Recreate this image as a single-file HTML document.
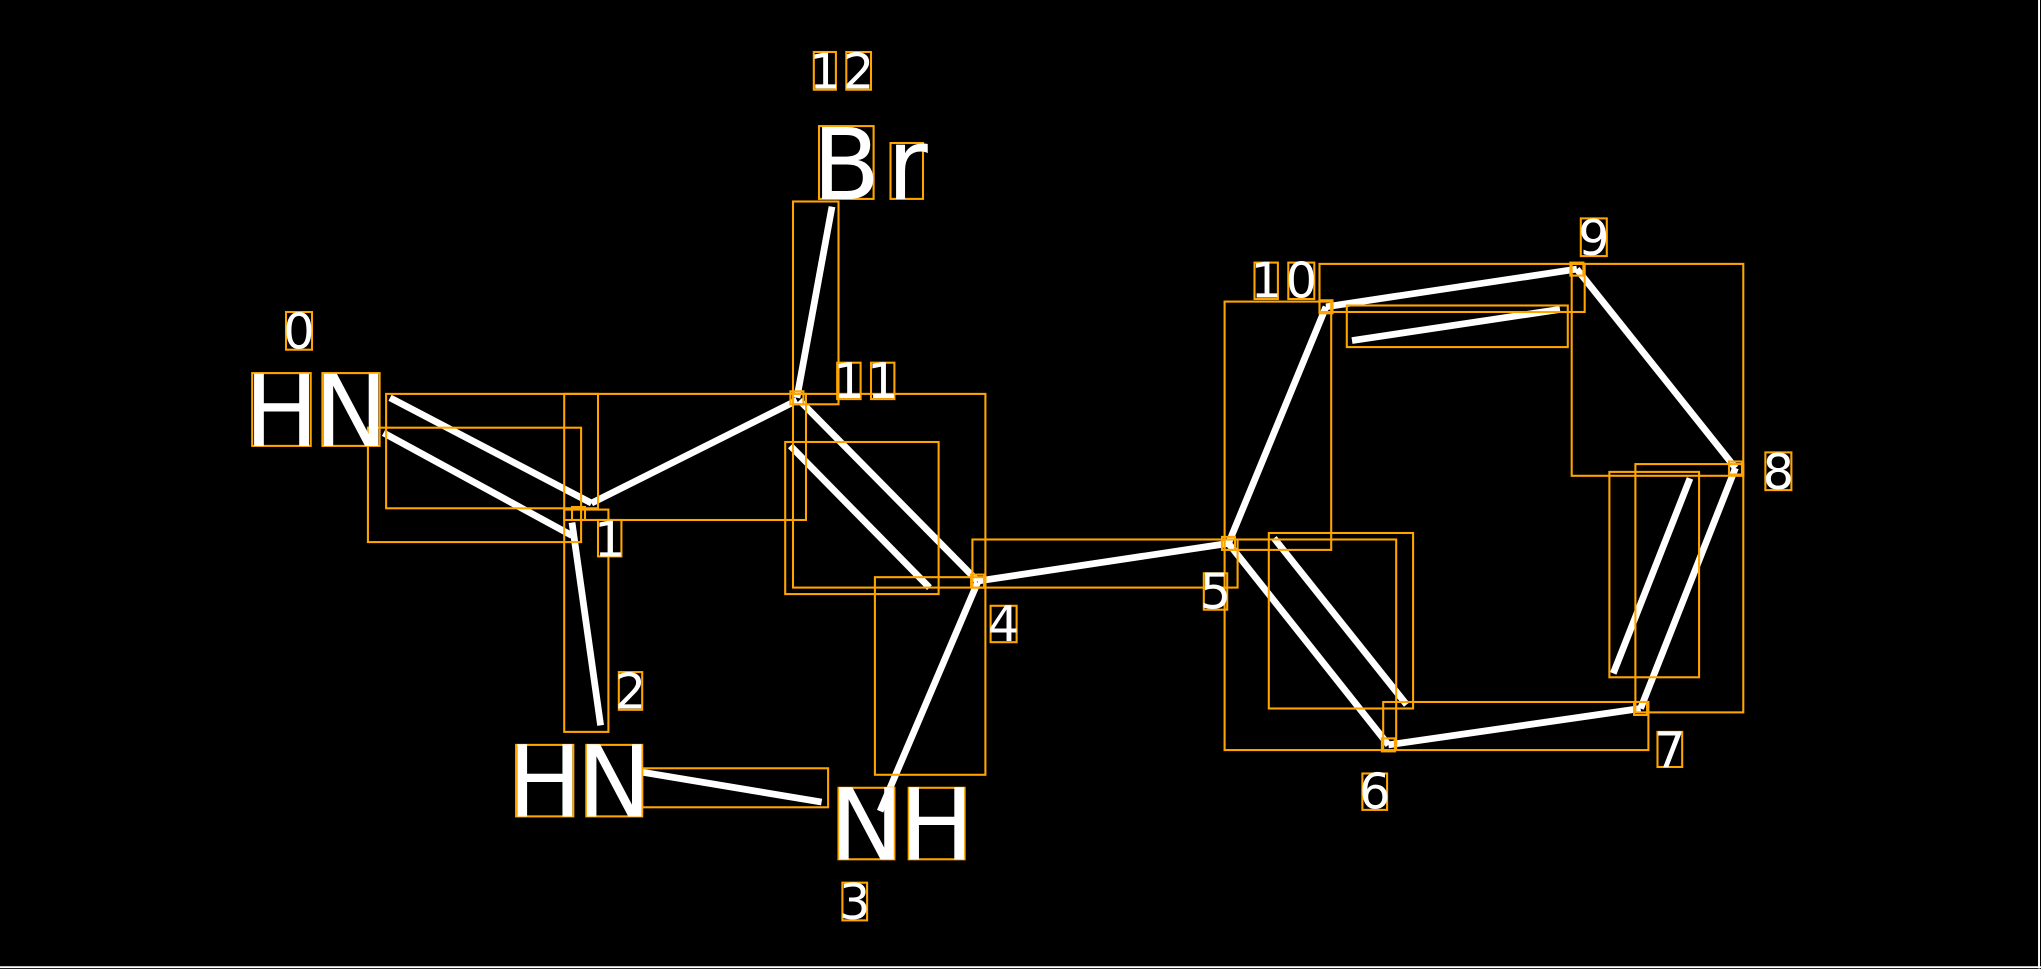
<!DOCTYPE html>
<html><head><style>html,body{margin:0;padding:0;background:#000;}svg{display:block}</style></head>
<body>
<svg width="2041" height="969" viewBox="0 0 1570 745.4" xmlns="http://www.w3.org/2000/svg">
<rect x="0" y="0" width="1570" height="745.4" fill="#000"/>
<line x1="1568.5" y1="0" x2="1568.5" y2="745" stroke="#fff" stroke-width="1.5"/>
<line x1="0" y1="744" x2="1570" y2="744" stroke="#fff" stroke-width="1.5"/>
<g stroke="#fff" stroke-width="5.2" fill="none">
<line x1="300" y1="306" x2="455" y2="387"/>
<line x1="295" y1="333" x2="440" y2="412"/>
<line x1="455" y1="387" x2="613" y2="308"/>
<line x1="613" y1="306" x2="640" y2="159"/>
<line x1="440" y1="402" x2="462" y2="558"/>
<line x1="494" y1="594" x2="632" y2="617"/>
<line x1="677" y1="624" x2="752" y2="448"/>
<line x1="615" y1="308" x2="752" y2="447"/>
<line x1="608" y1="343" x2="715" y2="452"/>
<line x1="752" y1="447" x2="945" y2="418"/>
<line x1="945" y1="418" x2="1020" y2="236"/>
<line x1="1020" y1="236" x2="1213" y2="207"/>
<line x1="1040" y1="262" x2="1200" y2="238"/>
<line x1="1213" y1="207" x2="1335" y2="360"/>
<line x1="1335" y1="360" x2="1262" y2="545"/>
<line x1="1300" y1="368" x2="1241" y2="518"/>
<line x1="1262" y1="545" x2="1068" y2="573"/>
<line x1="1068" y1="573" x2="945" y2="418"/>
<line x1="980" y1="414" x2="1082" y2="542"/>
</g>
<g stroke="#FFA500" stroke-width="1.6" fill="none">
<rect x="297" y="303" width="163" height="88"/>
<rect x="283" y="329" width="164" height="88"/>
<rect x="434" y="303" width="186" height="97"/>
<rect x="610" y="155" width="35" height="156"/>
<rect x="434" y="392" width="34" height="171"/>
<rect x="494" y="591" width="143" height="30"/>
<rect x="673" y="444" width="85" height="152"/>
<rect x="610" y="303" width="148" height="149"/>
<rect x="604" y="340" width="118" height="117"/>
<rect x="748" y="415" width="204" height="37"/>
<rect x="942" y="232" width="82" height="191"/>
<rect x="1015" y="203" width="204" height="37"/>
<rect x="1036" y="235" width="170" height="32"/>
<rect x="1209" y="203" width="132" height="163"/>
<rect x="1258" y="357" width="83" height="191"/>
<rect x="1238" y="363" width="69" height="158"/>
<rect x="1064" y="540" width="204" height="37"/>
<rect x="942" y="415" width="132" height="162"/>
<rect x="976" y="410" width="111" height="135"/>
<rect x="440" y="390" width="10" height="10"/>
<rect x="608" y="301" width="10" height="10"/>
<rect x="747" y="442" width="10" height="10"/>
<rect x="940" y="413" width="10" height="10"/>
<rect x="1015" y="231" width="10" height="10"/>
<rect x="1208" y="202" width="10" height="10"/>
<rect x="1330" y="355" width="10" height="10"/>
<rect x="1257" y="540" width="10" height="10"/>
<rect x="1063" y="568" width="10" height="10"/>
<!-- label boxes -->
<rect x="220" y="240" width="20" height="29"/>
<rect x="194" y="287" width="45" height="56"/>
<rect x="248" y="287" width="44" height="56"/>
<rect x="460" y="400" width="18" height="28"/>
<rect x="476" y="517" width="18" height="29"/>
<rect x="397" y="573" width="44" height="55"/>
<rect x="451" y="573" width="43" height="55"/>
<rect x="645" y="606" width="43" height="55"/>
<rect x="699" y="606" width="43" height="55"/>
<rect x="648" y="679" width="19" height="29"/>
<rect x="762" y="466" width="20" height="28"/>
<rect x="926" y="441" width="18" height="28"/>
<rect x="1048" y="595" width="19" height="28"/>
<rect x="1275" y="563" width="19" height="27"/>
<rect x="1358" y="348" width="20" height="29"/>
<rect x="1216" y="168" width="20" height="29"/>
<rect x="965" y="202" width="18" height="28"/>
<rect x="991" y="202" width="20" height="28"/>
<rect x="644" y="279" width="18" height="28"/>
<rect x="670" y="279" width="18" height="28"/>
<rect x="626" y="40" width="17" height="29"/>
<rect x="651" y="40" width="19" height="29"/>
<rect x="630" y="97" width="42" height="56"/>
<rect x="685" y="110" width="25" height="43"/>
</g>
<g fill="#fff" font-family="DejaVu Sans, sans-serif" text-anchor="middle">
<g font-size="76">
<text x="216.5" y="343">H</text><text x="270" y="343">N</text>
<text x="419" y="628">H</text><text x="472.5" y="628">N</text>
<text x="666.5" y="661">N</text><text x="720.5" y="661">H</text>
<text x="651" y="153">B</text><text x="698" y="153">r</text>
</g>
<g font-size="38">
<text x="230" y="268">0</text>
<text x="469" y="428">1</text>
<text x="485" y="545">2</text>
<text x="657.5" y="707">3</text>
<text x="772" y="493">4</text>
<text x="935" y="468">5</text>
<text x="1057.5" y="622">6</text>
<text x="1284.5" y="590">7</text>
<text x="1368" y="376">8</text>
<text x="1226" y="196">9</text>
<text x="974" y="229">1</text><text x="1001" y="229">0</text>
<text x="653" y="306">1</text><text x="679" y="306">1</text>
<text x="634.5" y="68">1</text><text x="660.5" y="68">2</text>
</g>
</g>
</svg>
</body></html>
